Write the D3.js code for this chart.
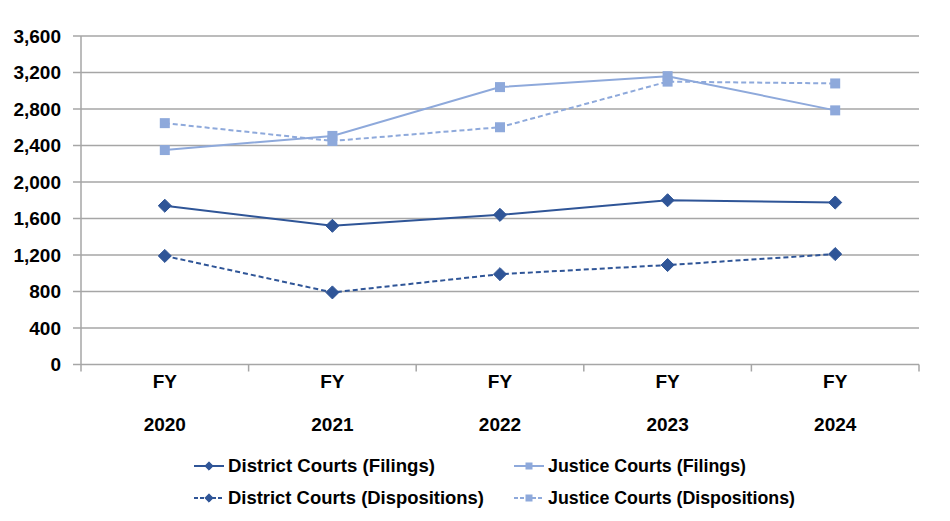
<!DOCTYPE html>
<html>
<head>
<meta charset="utf-8">
<script src="https://cdn.jsdelivr.net/npm/d3@7/dist/d3.min.js"></script>
<style>
  body { margin: 0; background: #fff; }
  text { font-family: "Liberation Sans", Arial, sans-serif; font-weight: bold; fill: #000; }
</style>
</head>
<body>
<svg id="chart" width="950" height="521"></svg>
<script>
// fiscal years along the x axis
var years = ["2020", "2021", "2022", "2023", "2024"];
var yTicks = [0, 400, 800, 1200, 1600, 2000, 2400, 2800, 3200, 3600];

// values
var districtFilings      = [1740, 1520, 1640, 1800, 1775];
var districtDispositions = [1190, 790, 990, 1090, 1210];
var justiceFilings       = [2350, 2505, 3040, 3160, 2785];
var justiceDispositions  = [2645, 2450, 2600, 3100, 3080];

var dark = "#2F5597", light = "#8EA9DB", grid = "#A6A6A6";

var series = [
  {name: "District Courts (Filings)", values: districtFilings, color: dark, dash: null, shape: "diamond"},
  {name: "Justice Courts (Filings)", values: justiceFilings, color: light, dash: null, shape: "square"},
  {name: "District Courts (Dispositions)", values: districtDispositions, color: dark, dash: "5,3", shape: "diamond"},
  {name: "Justice Courts (Dispositions)", values: justiceDispositions, color: light, dash: "5,3", shape: "square"}
];

var svg = d3.select("#chart");
var plotL = 81, plotR = 919, plotT = 36, plotB = 364.5;

var x = d3.scaleBand().domain(years).range([plotL, plotR]);
var y = d3.scaleLinear().domain([0, 3600]).range([plotB, plotT]);

// gridlines
svg.append("g").selectAll("line").data(yTicks).enter().append("line")
  .attr("x1", plotL - 8).attr("x2", plotR)
  .attr("y1", function(d){ return y(d); }).attr("y2", function(d){ return y(d); })
  .attr("stroke", grid).attr("stroke-width", 1.5);

// y axis line
svg.append("line").attr("x1", plotL).attr("x2", plotL).attr("y1", plotT).attr("y2", plotB + 7)
  .attr("stroke", grid).attr("stroke-width", 1.5);

// category tick marks below the baseline
var bounds = years.map(function(d){ return x(d); }).concat([plotR]);
svg.append("g").selectAll("line").data(bounds.slice(1)).enter().append("line")
  .attr("x1", function(d){ return d; }).attr("x2", function(d){ return d; })
  .attr("y1", plotB).attr("y2", plotB + 7)
  .attr("stroke", grid).attr("stroke-width", 1.5);

// y labels
svg.append("g").selectAll("text").data(yTicks).enter().append("text")
  .attr("x", 61).attr("y", function(d){ return y(d); }).attr("dy", "0.35em")
  .attr("text-anchor", "end").style("font-size", "19px")
  .text(function(d){ return d3.format(",")(d); });

// x labels
var xl = svg.append("g").selectAll("g").data(years).enter().append("g")
  .attr("transform", function(d){ return "translate(" + (x(d) + x.bandwidth() / 2) + ",0)"; });
xl.append("text").attr("y", 381).attr("dy", "0.35em").attr("text-anchor", "middle")
  .style("font-size", "19px").text("FY");
xl.append("text").attr("y", 424).attr("dy", "0.35em").attr("text-anchor", "middle")
  .style("font-size", "19px").text(function(d){ return d; });

function marker(g, shape, color, size) {
  if (shape == "diamond") {
    g.append("path").attr("d", d3.symbol().type(d3.symbolDiamond2).size(size * size * 0.9)())
      .attr("fill", color).attr("stroke", color).attr("stroke-width", 1);
  } else {
    g.append("rect").attr("x", -size / 2).attr("y", -size / 2).attr("width", size).attr("height", size)
      .attr("fill", color);
  }
}

var line = d3.line()
  .x(function(d, i){ return x(years[i]) + x.bandwidth() / 2; })
  .y(function(d){ return y(d); });

// draw light series first so dark ones sit above
[1, 3, 0, 2].forEach(function(k){
  var s = series[k];
  svg.append("path").datum(s.values).attr("d", line)
    .attr("fill", "none").attr("stroke", s.color).attr("stroke-width", 2)
    .attr("stroke-dasharray", s.dash);
  s.values.forEach(function(v, i){
    var g = svg.append("g").attr("transform", "translate(" + (x(years[i]) + x.bandwidth() / 2) + "," + y(v) + ")");
    marker(g, s.shape, s.color, s.shape == "square" ? 10 : 11);
  });
});

// legend
var legendPos = [[194, 466, 207], [514, 466, 198], [194, 498, 256], [514, 498, 247]];
series.forEach(function(s, i){
  var p = legendPos[i];
  var g = svg.append("g").attr("transform", "translate(" + p[0] + "," + p[1] + ")");
  g.append("line").attr("x1", 0).attr("x2", 30).attr("y1", 0).attr("y2", 0)
    .attr("stroke", s.color).attr("stroke-width", 2).attr("stroke-dasharray", s.dash ? "4,2" : null);
  var m = g.append("g").attr("transform", "translate(15,0)");
  marker(m, s.shape, s.color, 7);
  g.append("text").attr("x", 34).attr("dy", "0.35em").style("font-size", "18px")
    .attr("textLength", p[2]).attr("lengthAdjust", "spacingAndGlyphs")
    .text(s.name);
});
</script>
</body>
</html>
